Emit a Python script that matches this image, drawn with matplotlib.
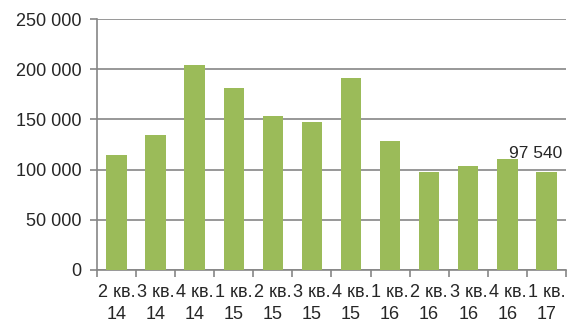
import matplotlib
matplotlib.use("Agg")
import matplotlib.pyplot as plt
import numpy as np

categories = ["2 кв.\n14", "3 кв.\n14", "4 кв.\n14", "1 кв.\n15", "2 кв.\n15", "3 кв.\n15",
              "4 кв.\n15", "1 кв.\n16", "2 кв.\n16", "3 кв.\n16", "4 кв.\n16", "1 кв.\n17"]
values = [114200, 134200, 204200, 181000, 153700, 147700, 190900, 128800, 98000, 103900, 110600, 97540]
yticks = [0, 50000, 100000, 150000, 200000, 250000]
ytick_labels = ["0", "50 000", "100 000", "150 000", "200 000", "250 000"]
last_label = "97 540"

plt.rcParams['font.family'] = ['Liberation Sans', 'DejaVu Sans']

fig = plt.figure(figsize=(5.7, 3.24), dpi=100)
ax = fig.add_axes([0.170, 0.1667, 0.823, 0.7743])

x = np.arange(len(categories))
ax.bar(x, values, width=0.52, color='#9BBB59', zorder=3)

ax.set_xlim(-0.5, len(categories) - 0.5)
ax.set_ylim(0, 250000)
ax.set_yticks(yticks)
ax.set_yticklabels(ytick_labels)
ax.set_xticks(x)
ax.set_xticklabels(categories, linespacing=1.4)
ax.set_xticks(np.arange(len(categories) + 1) - 0.5, minor=True)

ax.tick_params(axis='x', which='major', length=0, pad=10, labelsize=13, colors='#262626')
ax.tick_params(axis='x', which='minor', length=5, width=1.2, color='#868686')
ax.tick_params(axis='y', length=5, width=1.2, color='#868686', labelsize=13, labelcolor='#262626', pad=6)

ax.grid(axis='y', color='#868686', linewidth=1.2, zorder=0)
for s in ['top', 'right']:
    ax.spines[s].set_visible(False)
for s in ['left', 'bottom']:
    ax.spines[s].set_color('#868686')
    ax.spines[s].set_linewidth(1.2)

ax.annotate(last_label, xy=(x[-1], values[-1]), xytext=(-8, 8), textcoords='offset points',
            ha='center', va='bottom', fontsize=12.5, color='#262626')

fig.savefig("out.png", dpi=100)
